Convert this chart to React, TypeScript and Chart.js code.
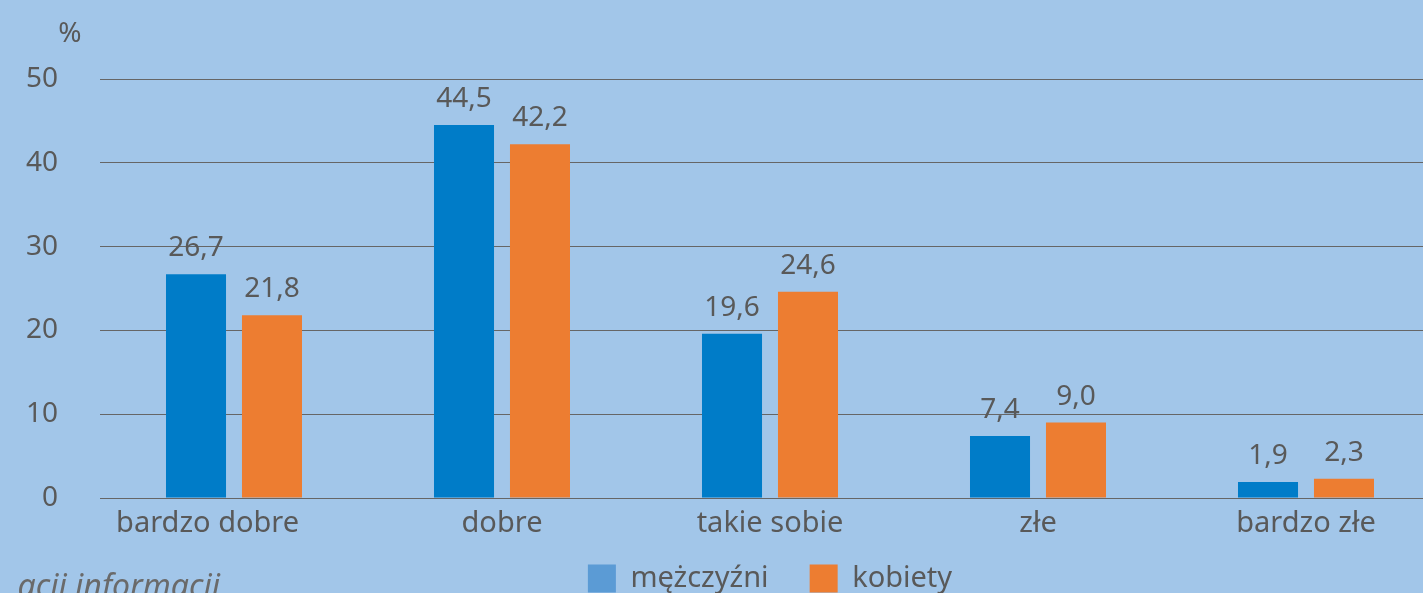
import React, { useEffect, useRef } from "react";
import { Chart, registerables } from "chart.js";

Chart.register(...registerables);

const categories = ["bardzo dobre", "dobre", "takie sobie", "złe", "bardzo złe"];
const seriesNames = ["mężczyźni", "kobiety"];
const menValues = [26.7, 44.5, 19.6, 7.4, 1.9];
const womenValues = [21.8, 42.2, 24.6, 9.0, 2.3];
const yTickValues = [0, 10, 20, 30, 40, 50];
const footnoteText = "acji informacji";
const unitLabel = "%";

const BG = "#A2C6E9";
const TEXT = "#595959";
const FONT = "'Noto Sans', sans-serif";

export default function App() {
  const ref = useRef<HTMLCanvasElement | null>(null);

  useEffect(() => {
    if (!ref.current) return;
    const extras = {
      id: "extras",
      afterDatasetsDraw(chart: any) {
        const ctx = chart.ctx;
        ctx.save();
        ctx.fillStyle = TEXT;
        ctx.font = `28px ${FONT}`;
        ctx.textAlign = "center";
        ctx.textBaseline = "alphabetic";
        chart.data.datasets.forEach((ds: any, di: number) => {
          const meta = chart.getDatasetMeta(di);
          meta.data.forEach((bar: any, i: number) => {
            const v = ds.data[i] as number;
            ctx.fillText(v.toFixed(1).replace(".", ","), bar.x, bar.y - 18);
          });
        });
        ctx.fillText(unitLabel, 70, 42);
        ctx.font = `italic 32px ${FONT}`;
        ctx.fillStyle = "#6a6a6a";
        ctx.textAlign = "right";
        ctx.fillText(footnoteText, 220, 597);
        ctx.restore();
      },
    };

    const chart = new Chart(ref.current, {
      type: "bar",
      data: {
        labels: categories,
        datasets: [
          {
            label: seriesNames[0],
            data: menValues,
            backgroundColor: "#007CC8",
            categoryPercentage: 0.567,
            barPercentage: 0.79,
          },
          {
            label: seriesNames[1],
            data: womenValues,
            backgroundColor: "#ED7D31",
            categoryPercentage: 0.567,
            barPercentage: 0.79,
          },
        ],
      },
      options: {
        responsive: false,
        animation: false,
        devicePixelRatio: 1,
        layout: { padding: { top: 79, right: 80, left: 0, bottom: 37 } },
        plugins: {
          tooltip: { enabled: false },
          title: { display: false },
          legend: {
            position: "bottom",
            fullSize: false,
            labels: {
              boxWidth: 28,
              boxHeight: 28,
              padding: 26,
              color: TEXT,
              font: { size: 29, family: FONT },
              generateLabels: (chart: any) =>
                chart.data.datasets.map((ds: any, i: number) => ({
                  text: i === 0 ? ds.label + "\u00a0\u00a0" : ds.label,
                  fillStyle: i === 0 ? "#5B9BD5" : "#ED7D31",
                  strokeStyle: "transparent",
                  lineWidth: 0,
                  fontColor: TEXT,
                  datasetIndex: i,
                  hidden: false,
                })),
            },
          },
        },
        scales: {
          x: {
            grid: { display: false, drawTicks: false },
            border: { display: false },
            ticks: {
              color: TEXT,
              font: { size: 29, family: FONT },
              padding: 8,
              callback: (_v: any, i: number) =>
                i === 0 ? categories[i] + "\u00a0".repeat(7) : categories[i],
            },
            afterFit: (scale: any) => {
              scale.height = 40;
            },
          },
          y: {
            min: 0,
            max: 50,
            afterBuildTicks: (scale: any) => {
              scale.ticks = yTickValues.map((v) => ({ value: v }));
            },
            afterFit: (scale: any) => {
              scale.width = 100;
            },
            grid: { color: "#666666", lineWidth: 1, drawTicks: false },
            border: { display: false },
            ticks: { color: TEXT, font: { size: 28, family: FONT }, padding: 42 },
          },
        },
      },
      plugins: [extras],
    } as any);
    return () => chart.destroy();
  }, []);

  return (
    <div
      style={{
        position: "absolute",
        left: 0,
        top: 0,
        width: 1423,
        height: 593,
        overflow: "hidden",
        background: BG,
      }}
    >
      <canvas ref={ref} width={1520} height={640} style={{ display: "block", width: 1520, height: 640 }} />
    </div>
  );
}
